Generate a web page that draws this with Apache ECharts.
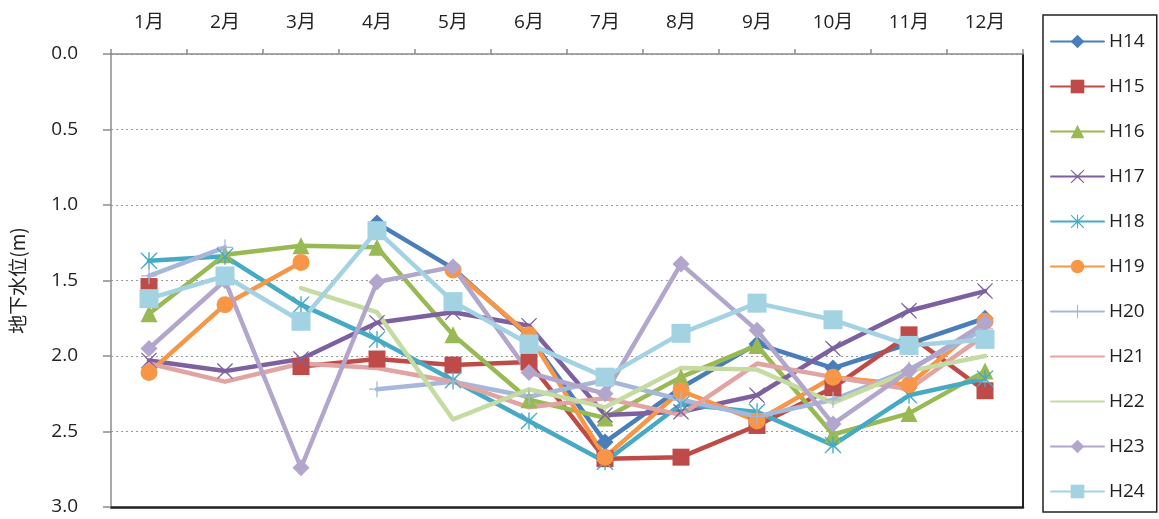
<!DOCTYPE html>
<html>
<head>
<meta charset="utf-8">
<script src="https://cdn.jsdelivr.net/npm/echarts@6/dist/echarts.min.js"></script>
<style>
  html, body { margin: 0; padding: 0; background: #fff; }
  #chart { width: 1159px; height: 519px; }
</style>
</head>
<body>
<div id="chart"></div>
<script>
// Monthly groundwater depth (m below surface), fiscal years H14–H24
const months = ['1月', '2月', '3月', '4月', '5月', '6月', '7月', '8月', '9月', '10月', '11月', '12月'];
const yTicks = { min: 0, max: 3, interval: 0.5 };

const H14 = [null, null, null, 1.12, 1.42, 1.87, 2.57, 2.21, 1.92, 2.08, 1.92, 1.75];
const H15 = [1.54, null, 2.07, 2.02, 2.06, 2.04, 2.68, 2.67, 2.46, 2.21, 1.86, 2.23];
const H16 = [1.72, 1.33, 1.27, 1.28, 1.86, 2.29, 2.41, 2.14, 1.93, 2.52, 2.38, 2.10];
const H17 = [2.03, 2.10, 2.02, 1.78, 1.71, 1.80, 2.39, 2.37, 2.26, 1.95, 1.70, 1.57];
const H18 = [1.37, 1.34, 1.66, 1.89, 2.16, 2.43, 2.70, 2.32, 2.37, 2.59, 2.26, 2.15];
const H19 = [2.11, 1.66, 1.38, null, 1.43, 1.86, 2.67, 2.23, 2.43, 2.14, 2.19, 1.77];
const H20 = [1.47, 1.28, null, 2.22, 2.17, 2.27, 2.16, 2.29, 2.40, 2.29, 2.09, 1.82];
const H21 = [2.05, 2.17, 2.05, 2.08, 2.17, 2.34, 2.28, 2.39, 2.05, 2.14, 2.22, 1.86];
const H22 = [1.47, null, 1.55, 1.71, 2.42, 2.22, 2.34, 2.08, 2.09, 2.31, 2.10, 2.00];
const H23 = [1.95, 1.50, 2.74, 1.51, 1.41, 2.11, 2.25, 1.39, 1.83, 2.45, 2.10, 1.78];
const H24 = [1.62, 1.47, 1.77, 1.17, 1.64, 1.92, 2.14, 1.85, 1.65, 1.76, 1.93, 1.89];

// marker shapes
const X_PATH = 'path://M1,0 L10,8.6 L19,0 L20,1 L11.4,10 L20,19 L19,20 L10,11.4 L1,20 L0,19 L8.6,10 L0,1 Z';
const STAR_PATH = 'path://M1,0 L10,8.6 L19,0 L20,1 L11.4,10 L20,19 L19,20 L10,11.4 L1,20 L0,19 L8.6,10 L0,1 Z M9.2,0 L10.8,0 L10.8,20 L9.2,20 Z';
const PLUS_PATH = 'path://M9.2,0 L10.8,0 L10.8,9.2 L20,9.2 L20,10.8 L10.8,10.8 L10.8,20 L9.2,20 L9.2,10.8 L0,10.8 L0,9.2 L9.2,9.2 Z';

const seriesDefs = [
  { name: 'H14', data: H14, color: '#4A7EBB', symbol: 'diamond', size: 17 },
  { name: 'H15', data: H15, color: '#BE4B48', symbol: 'rect', size: 17 },
  { name: 'H16', data: H16, color: '#98B954', symbol: 'triangle', size: 17 },
  { name: 'H17', data: H17, color: '#7D60A0', symbol: X_PATH, size: 16 },
  { name: 'H18', data: H18, color: '#46AAC5', symbol: STAR_PATH, size: 17 },
  { name: 'H19', data: H19, color: '#F79646', symbol: 'circle', size: 17 },
  { name: 'H20', data: H20, color: '#A5B8DA', symbol: PLUS_PATH, size: 16 },
  { name: 'H21', data: H21, color: '#E0A4A2', symbol: 'none', size: 0 },
  { name: 'H22', data: H22, color: '#C6DBA2', symbol: 'none', size: 0 },
  { name: 'H23', data: H23, color: '#B2A6CC', symbol: 'diamond', size: 17 },
  { name: 'H24', data: H24, color: '#A3D3E2', symbol: 'rect', size: 19 }
];

const FONT = '"Noto Sans CJK JP", "Noto Sans", sans-serif';
const NUM_FONT = '"Open Sans", "Noto Sans CJK JP", sans-serif';

const chart = echarts.init(document.getElementById('chart'), null, { renderer: 'canvas' });

chart.setOption({
  animation: false,
  backgroundColor: '#ffffff',
  textStyle: { fontFamily: FONT },
  grid: { left: 106, top: 54, right: 136, bottom: 12, containLabel: false },
  legend: {
    orient: 'vertical',
    left: 1043,
    top: 15,
    padding: [17, 12, 11, 7],
    itemGap: 26,
    itemWidth: 53,
    itemHeight: 17,
    borderColor: '#222',
    borderWidth: 1.5,
    textStyle: { fontFamily: NUM_FONT, fontSize: 19, color: '#222' },
    data: seriesDefs.map(s => s.symbol === 'none'
      ? { name: s.name, itemStyle: { opacity: 0 } }
      : { name: s.name })
  },
  xAxis: [
    {
      type: 'category',
      position: 'top',
      data: months,
      boundaryGap: true,
      axisLine: { show: true, lineStyle: { color: '#8c8c8c', width: 1.5 } },
      axisTick: { show: true, inside: false, length: 5, alignWithLabel: false, lineStyle: { color: '#8c8c8c', width: 1.5 } },
      axisLabel: { fontSize: 19, color: '#222', margin: 22, fontFamily: NUM_FONT },
      splitLine: { show: false }
    },
    {
      type: 'category',
      position: 'bottom',
      data: months,
      axisLine: { show: true, onZero: false, lineStyle: { color: '#222', width: 2.5 } },
      axisTick: { show: false },
      axisLabel: { show: false },
      splitLine: { show: false }
    }
  ],
  yAxis: [
    {
      type: 'value',
      inverse: true,
      min: yTicks.min,
      max: yTicks.max,
      interval: yTicks.interval,
      name: '地下水位(m)',
      nameLocation: 'middle',
      nameRotate: 90,
      nameGap: 84,
      nameTextStyle: { fontSize: 19, color: '#222', fontFamily: FONT },
      axisLine: { show: true, lineStyle: { color: '#8c8c8c', width: 1.5 } },
      axisTick: { show: true, inside: false, length: 8, lineStyle: { color: '#8c8c8c', width: 1.5 } },
      axisLabel: { fontSize: 19, color: '#222', margin: 33, fontFamily: NUM_FONT, formatter: v => v.toFixed(1) },
      splitLine: { show: true, lineStyle: { color: '#9a9a9a', width: 1.2, type: [2, 3] } }
    },
    {
      type: 'value',
      position: 'right',
      inverse: true,
      min: yTicks.min,
      max: yTicks.max,
      interval: yTicks.interval,
      axisLine: { show: true, onZero: false, lineStyle: { color: '#222', width: 2 } },
      axisTick: { show: false },
      axisLabel: { show: false },
      splitLine: { show: false }
    }
  ],
  series: seriesDefs.map(s => ({
    name: s.name,
    type: 'line',
    data: s.data,
    xAxisIndex: 0,
    yAxisIndex: 0,
    connectNulls: false,
    symbol: s.symbol,
    symbolSize: s.size,
    showSymbol: s.symbol !== 'none',
    showAllSymbol: true,
    lineStyle: { color: s.color, width: 4.5, join: 'round', cap: 'round' },
    itemStyle: { color: s.color, borderWidth: 0 },
    emphasis: { disabled: true },
    z: 2
  }))
});
</script>
</body>
</html>
